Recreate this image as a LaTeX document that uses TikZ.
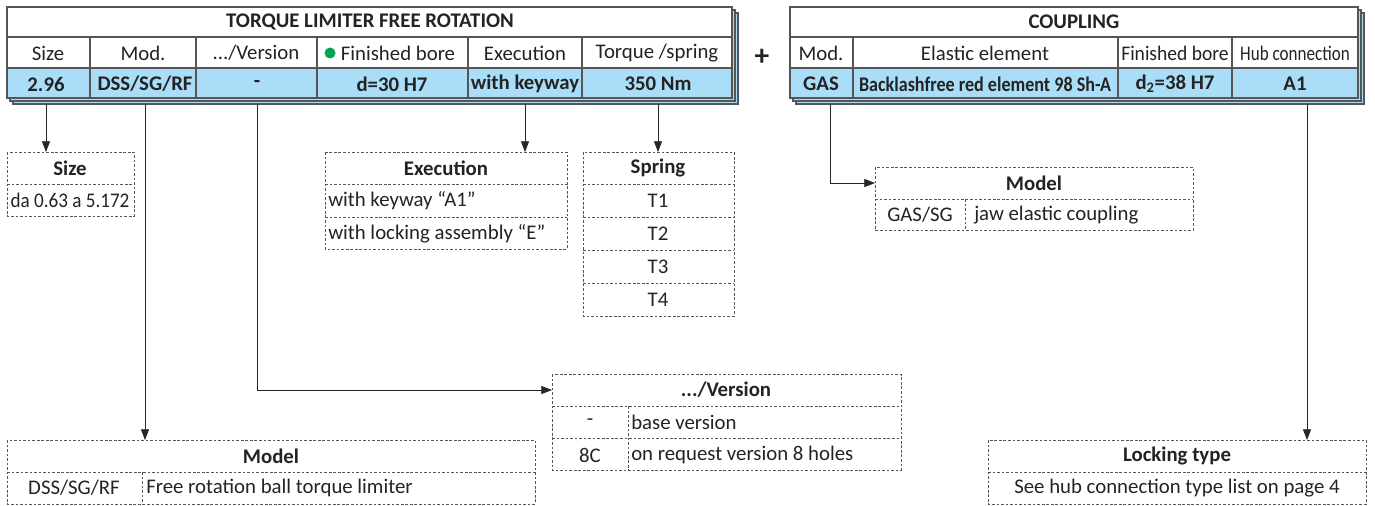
\documentclass[tikz,border=0pt]{standalone}
\usepackage{fontspec}
\setmainfont{Carlito}
\usepackage{graphicx}
\usetikzlibrary{arrows.meta}
\definecolor{rowblue}{RGB}{170,222,248}
\definecolor{linegray}{RGB}{85,85,85}
\definecolor{txtgray}{RGB}{35,35,35}
\definecolor{dotgreen}{RGB}{0,166,81}

\begin{document}
\begin{tikzpicture}[x=0.75pt, y=-0.75pt, font=\fontsize{15.6}{17}\selectfont, text=txtgray,
    frame/.style={draw=linegray, line width=0.8pt},
    dbox/.style={draw=linegray, line width=0.6pt, dash pattern=on 2pt off 1.4pt},
    arr/.style={draw=black!85, line width=0.6pt, -{Triangle[length=8pt,width=6pt]}},
    hd/.style={font=\fontsize{15.6}{17}\selectfont\bfseries},
    lt/.style={anchor=west, inner sep=0pt}]
\useasboundingbox (0,0) rectangle (1375,506);

% torque limiter table
\draw[frame, fill=rowblue] (13,13) rectangle (738,104);
\draw[frame, fill=rowblue] (10,10) rectangle (735,101);
\draw[frame, fill=white] (7,7) rectangle (732,98);
\fill[rowblue] (7,68) rectangle (732,98);
\draw[frame] (7,7) rectangle (732,98);
\draw[frame] (7,37) -- (732,37) (7,68) -- (732,68);
\foreach \c in {90,196,317,468,582}
  \draw[frame] (\c,37) -- (\c,98);
\node[hd] (tlim) at (370,22) {TORQUE LIMITER FREE ROTATION};
\node (hsize) at (48,53) {Size};
\node (hmod) at (143,53) {Mod.};
\node (hver) at (256,53) {.../Version};
\fill[dotgreen] (330,53) circle (5.5);
\node (hbore) at (398,53) {Finished bore};
\node (hexe) at (525,53) {Execution};
\node (htrq) at (657,53) {Torque /spring};
\node[hd] (vsize) at (46,84) {2.96};
\node[hd] (vmod) at (145,84) {DSS/SG/RF};
\node[hd] (vver) at (257,84) {-};
\node[hd] (vbore) at (392,84) {d=30 H7};
\node[hd] (vexe) at (525,84) {with keyway};
\node[hd] (vtrq) at (658,84) {350 Nm};
\coordinate (lbot) at (0,104);

\node[font=\fontsize{22}{22}\selectfont\bfseries] (plus) at (762,57) {+};

% coupling table
\draw[frame, fill=rowblue] (796,13) rectangle (1364,104);
\draw[frame, fill=rowblue] (793,10) rectangle (1361,101);
\draw[frame, fill=white] (790,7) rectangle (1358,98);
\fill[rowblue] (790,68) rectangle (1358,98);
\draw[frame] (790,7) rectangle (1358,98);
\draw[frame] (790,37) -- (1358,37) (790,68) -- (1358,68);
\foreach \c in {853,1118,1232}
  \draw[frame] (\c,37) -- (\c,98);
\node[hd] (tcpl) at (1074,22) {COUPLING};
\node (hcmod) at (821,53) {Mod.};
\node (hel) at (985,53) {Elastic element};
\node (hcbore) at (1175,53) {\scalebox{0.94}[1]{Finished bore}};
\node (hhub) at (1295,53) {\scalebox{0.82}[1]{Hub connection}};
\node[hd] (vgas) at (821,84) {GAS};
\node[hd] (vel) at (985,84) {\scalebox{0.87}[1]{Backlashfree red element 98 Sh-A}};
\node[hd] (vcbore) at (1175,84) {d\textsubscript{2}=38 H7};
\node[hd] (vhub) at (1295,84) {A1};

% size box
\draw[dbox] (7,152) rectangle (134,216) (7,184) -- (134,184);
\node[hd] (bsize) at (70,168) {Size};
\node (bsize1) at (70,200) {\scalebox{0.92}[1]{da 0.63 a 5.172}};
\coordinate (toprow) at (0,152);

% execution box
\draw[dbox] (325,152) rectangle (567,249) (325,184) -- (567,184) (325,217) -- (567,217);
\node[hd] (bexe) at (446,168) {Execution};
\node[lt] (bexe1) at (328,201) {with keyway “A1”};
\node[lt] (bexe2) at (328,234) {with locking assembly “E”};

% spring box
\draw[dbox] (583,152) rectangle (734,316);
\foreach \r in {184,217,250,283}
  \draw[dbox] (583,\r) -- (734,\r);
\node[hd] (bspr) at (658,168) {Spring};
\node (bspr1) at (658,201) {T1};
\node (bspr2) at (658,234) {T2};
\node (bspr3) at (658,267) {T3};
\node (bspr4) at (658,300) {T4};

% coupling model box
\draw[dbox] (875,167) rectangle (1193,230) (875,199) -- (1193,199) (965,199) -- (965,230);
\node[hd] (bcmod) at (1034,183) {Model};
\node (bcmod1) at (920,215) {GAS/SG};
\node[lt] (bcmod2) at (974,215) {jaw elastic coupling};
\coordinate (cmodin) at (875,183);

% version box
\draw[dbox] (552,374) rectangle (901,470) (552,406) -- (901,406) (552,438) -- (901,438) (628,406) -- (628,470);
\node[hd] (bver) at (726,390) {.../Version};
\node (bver1) at (590,422) {-};
\node[lt] (bver2) at (631,422) {base version};
\node (bver3) at (590,455) {8C};
\node[lt] (bver4) at (631,455) {on request version 8 holes};
\coordinate (verin) at (552,390);

% limiter model box
\draw[dbox] (7,440) rectangle (535,504) (7,472) -- (535,472) (142,472) -- (142,504);
\node[hd] (bmod) at (271,456) {Model};
\node (bmod1) at (74,488) {DSS/SG/RF};
\node[lt] (bmod2) at (146,488) {Free rotation ball torque limiter};

% locking type box
\draw[dbox] (988,440) rectangle (1366,504) (988,472) -- (1366,472);
\node[hd] (block) at (1177,456) {Locking type};
\node (block1) at (1177,488) {See hub connection type list on page 4};
\coordinate (botrow) at (0,440);

% connectors
\draw[arr] (vsize |- lbot) -- (vsize |- toprow);
\draw[arr] (vmod |- lbot) -- (vmod |- botrow);
\draw[arr] (vver |- lbot) -- (vver |- verin) -- (verin);
\draw[arr] (vexe |- lbot) -- (vexe |- toprow);
\draw[arr] (vtrq |- lbot) -- (vtrq |- toprow);
\draw[arr] ([xshift=7pt]vgas |- lbot) -- ([xshift=7pt]vgas |- cmodin) -- (cmodin);
\draw[arr] ([xshift=9pt]vhub |- lbot) -- ([xshift=9pt]vhub |- botrow);
\end{tikzpicture}
\end{document}
